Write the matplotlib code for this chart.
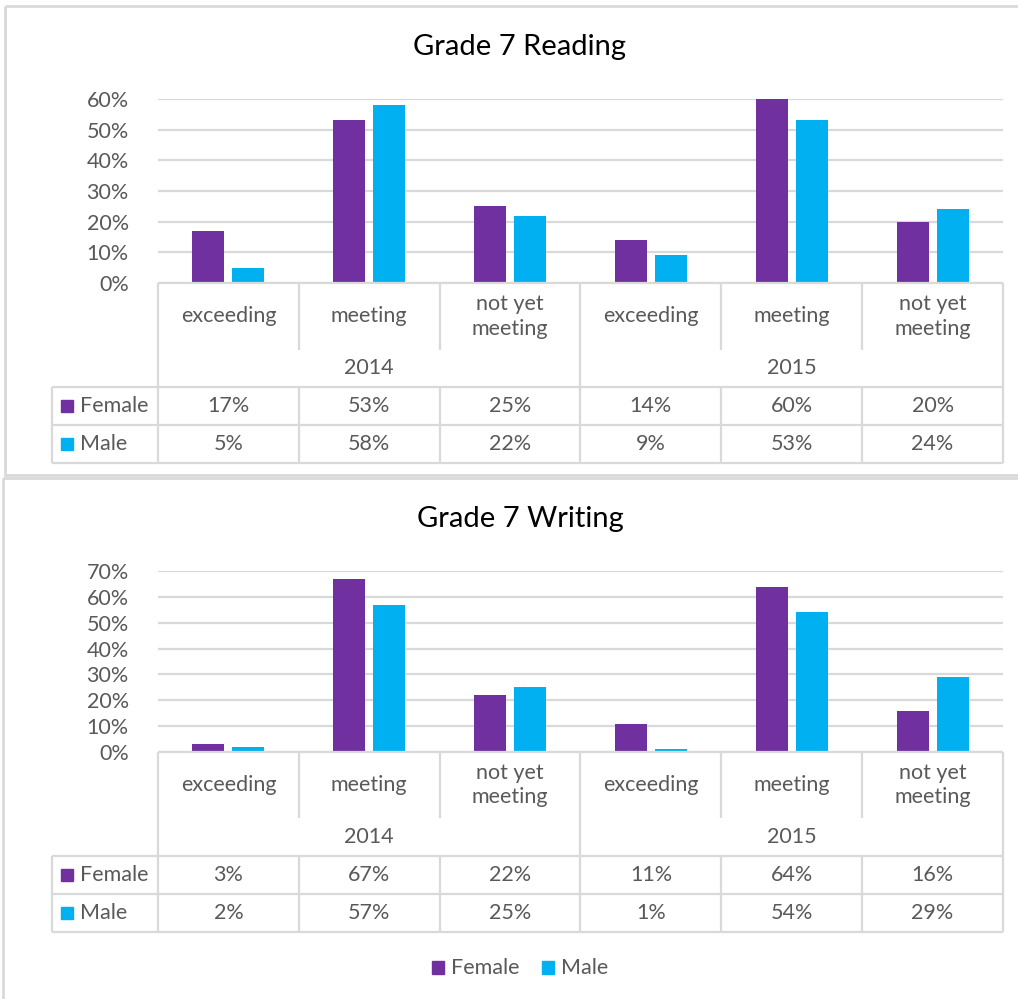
import matplotlib.pyplot as plt
from matplotlib.patches import Rectangle

plt.rcParams['font.family'] = ['Lato', 'DejaVu Sans']

# -----------------------
# DATA
# -----------------------
categories = ['exceeding', 'meeting', 'not yet\nmeeting'] * 2
years = ['2014', '2015']
series = ['Female', 'Male']

reading_female = [17, 53, 25, 14, 60, 20]
reading_male = [5, 58, 22, 9, 53, 24]
writing_female = [3, 67, 22, 11, 64, 16]
writing_male = [2, 57, 25, 1, 54, 29]

# -----------------------
# STYLE
# -----------------------
W, H = 1018, 999
colors = ['#7030A0', '#00B0F0']
grid_c = '#D9D9D9'
text_c = '#595959'
fs = 15.5

fig = plt.figure(figsize=(W / 100, H / 100), dpi=100)
ov = fig.add_axes([0, 0, 1, 1])
ov.set_xlim(0, W)
ov.set_ylim(H, 0)
ov.axis('off')
ov.set_zorder(5)

x0, x1 = 158, 1003
cw = (x1 - x0) / 6


def hline(y, xa, xb):
    ov.plot([xa, xb], [y, y], color=grid_c, lw=1.6, solid_capstyle='butt')


def vline(x, ya, yb):
    ov.plot([x, x], [ya, yb], color=grid_c, lw=1.6, solid_capstyle='butt')


def panel(title, fem, mal, ymax, ytop, ybase, ty, sep_end, row1, row2, row3):
    ax = fig.add_axes([x0 / W, 1 - ybase / H, (x1 - x0) / W, (ybase - ytop) / H])
    ax.set_xlim(-0.5, 5.5)
    ax.set_ylim(0, ymax)
    off, bw = 20 / cw, 32 / cw
    xs = range(6)
    ax.bar([x - off for x in xs], fem, width=bw, color=colors[0], zorder=3)
    ax.bar([x + off for x in xs], mal, width=bw, color=colors[1], zorder=3)
    ax.set_yticks(range(0, ymax + 1, 10))
    ax.set_yticklabels([f'{t}%' for t in range(0, ymax + 1, 10)])
    ax.tick_params(axis='y', length=0, pad=21, labelsize=fs, labelcolor=text_c)
    ax.set_xticks([])
    ax.grid(axis='y', color=grid_c, lw=1.6, zorder=0)
    for s in ax.spines.values():
        s.set_visible(False)
    ax.patch.set_alpha(0)

    ov.text(520, ty, title, ha='center', va='center', fontsize=21, color='black')

    # category / year header
    hline(ybase, x0, x1)
    for i in range(7):
        x = x0 + i * cw
        if i in (0, 3, 6):
            vline(x, ybase, row3)
        else:
            vline(x, ybase, sep_end)
            vline(x, row1, row3)
    for i, c in enumerate(categories):
        cx = x0 + (i + 0.5) * cw
        ov.text(cx, (ybase + sep_end) / 2, c, ha='center', va='center',
                fontsize=fs, color=text_c, linespacing=1.3)
    for j, yr in enumerate(years):
        ov.text(x0 + (j * 3 + 1.5) * cw, (sep_end + row1) / 2, yr, ha='center',
                va='center', fontsize=fs, color=text_c)

    # data table
    for y in (row1, row2, row3):
        hline(y, 52, x1)
    vline(52, row1, row3)
    for k, (name, vals) in enumerate(zip(series, (fem, mal))):
        ya, yb = (row1, row2) if k == 0 else (row2, row3)
        yc = (ya + yb) / 2
        ov.add_patch(Rectangle((61, yc - 6), 12, 12, color=colors[k]))
        ov.text(80, yc, name, ha='left', va='center', fontsize=fs, color=text_c)
        for i, v in enumerate(vals):
            ov.text(x0 + (i + 0.5) * cw, yc, f'{v}%', ha='center', va='center',
                    fontsize=fs, color=text_c)


panel('Grade 7 Reading', reading_female, reading_male, 60,
      99, 283, 47, 350, 386.5, 425, 463)
panel('Grade 7 Writing', writing_female, writing_male, 70,
      571, 752, 519, 818, 856, 894, 932)

# panel frames
ov.add_patch(Rectangle((5, 6), 1030, 469, fill=False, ec=grid_c, lw=2))
ov.add_patch(Rectangle((3, 478), 1030, 540, fill=False, ec=grid_c, lw=2))

# legend
for k, name in enumerate(series):
    lx = 432 + 110 * k
    ov.add_patch(Rectangle((lx, 961), 12, 13, color=colors[k]))
    ov.text(lx + 19, 967.5, name, ha='left', va='center', fontsize=fs, color=text_c)

fig.savefig('out.png', dpi=100)
